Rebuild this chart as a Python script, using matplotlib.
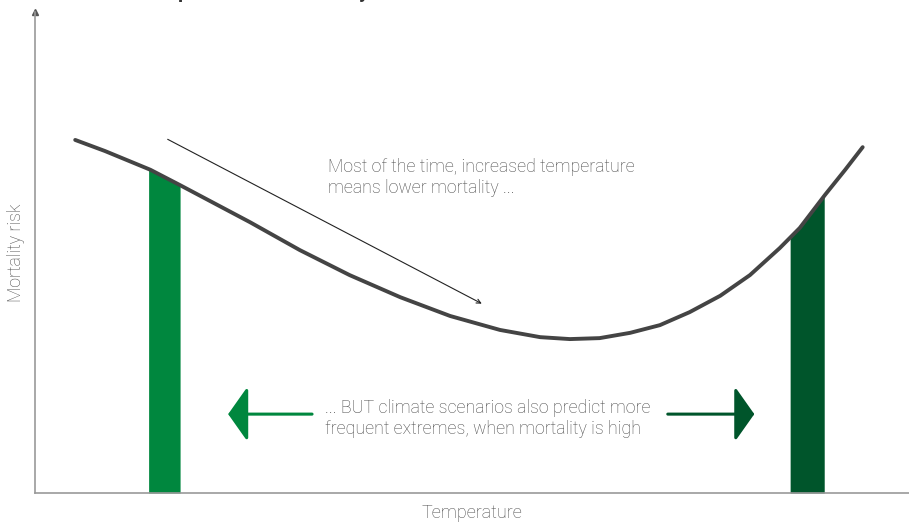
import numpy as np
import matplotlib.pyplot as plt
from matplotlib.patches import FancyArrowPatch

# Données (échelle arbitraire 0-100)
temperature = [4.6, 8.0, 13.2, 16.6, 24.6, 30.3, 36.0, 41.8, 47.5, 53.2, 57.8, 61.2,
               64.6, 68.1, 71.5, 74.9, 78.4, 81.8, 85.2, 87.5, 90.4, 92.7, 94.7]
risk = [73.4, 71.1, 67.2, 64.0, 56.3, 50.5, 45.3, 40.7, 36.8, 33.9, 32.4, 32.0,
        32.2, 33.3, 34.9, 37.6, 41.0, 45.3, 50.9, 55.1, 62.0, 67.2, 71.9]
cold_band = (13.0, 16.6)
hot_band = (86.4, 90.3)

title = "Effect of temperature on mortality"
note_top = "Most of the time, increased temperature\nmeans lower mortality ..."
note_bottom = "... BUT climate scenarios also predict more\nfrequent extremes, when mortality is high"

GREEN = "#00873e"
DARK_GREEN = "#00552b"
GREY = "#4a4a4a"

plt.rcParams['font.family'] = ['Roboto', 'DejaVu Sans']

fig = plt.figure(figsize=(9.09, 5.22), dpi=100)
ax = fig.add_axes([35 / 909, 29 / 522, 874 / 909, 481 / 522])
ax.set_xlim(0, 100)
ax.set_ylim(0, 100)

# bandes des extrêmes
for (t0, t1), col in [(cold_band, GREEN), (hot_band, DARK_GREEN)]:
    tt = np.linspace(t0, t1, 20)
    ax.fill_between(tt, 0, np.interp(tt, temperature, risk), color=col, lw=0)

# courbe
ax.plot(temperature, risk, color="#444444", lw=2.8, solid_capstyle='round',
        solid_joinstyle='round')

# flèche fine le long de la descente
ax.annotate("", xy=(51.4, 39.1), xytext=(14.9, 73.8),
            arrowprops=dict(arrowstyle='->,head_length=0.3,head_width=0.15',
                            color="#222222", lw=0.8))

ax.text(33.5, 65.6, note_top, fontsize=12.8, color=GREY, fontweight='light',
        va='center', ha='left', linespacing=1.2)
ax.text(33.2, 15.5, note_bottom, fontsize=12.8, color=GREY, fontweight='light',
        va='center', ha='left', linespacing=1.2)

# flèches vertes
for x0, x1, col in [(31.7, 22.1, GREEN), (72.4, 82.3, DARK_GREEN)]:
    ax.add_patch(FancyArrowPatch((x0, 16.4), (x1, 16.4),
                                 arrowstyle='-|>,head_length=0.6,head_width=0.85',
                                 mutation_scale=20, color=col, lw=2.2,
                                 shrinkA=0, shrinkB=0))

# axes
for s in ['top', 'right']:
    ax.spines[s].set_visible(False)
for s in ['left', 'bottom']:
    ax.spines[s].set_color("#999999")
    ax.spines[s].set_linewidth(1.2)
ax.set_xticks([])
ax.set_yticks([])
ax.plot(0, 100, marker='^', color="#555555", markersize=4, clip_on=False)

ax.set_xlabel("Temperature", fontsize=13, color=GREY, fontweight='light', labelpad=8)
ax.set_ylabel("Mortality risk", fontsize=12.8, color=GREY, fontweight='light', labelpad=7)

# titre coupé en haut de l'image
fig.text(60 / 909, 1 + 2 / 522, title, fontsize=14.5, fontweight='bold',
         color="#333333", va='baseline', ha='left')

fig.savefig("out.png", dpi=100)
